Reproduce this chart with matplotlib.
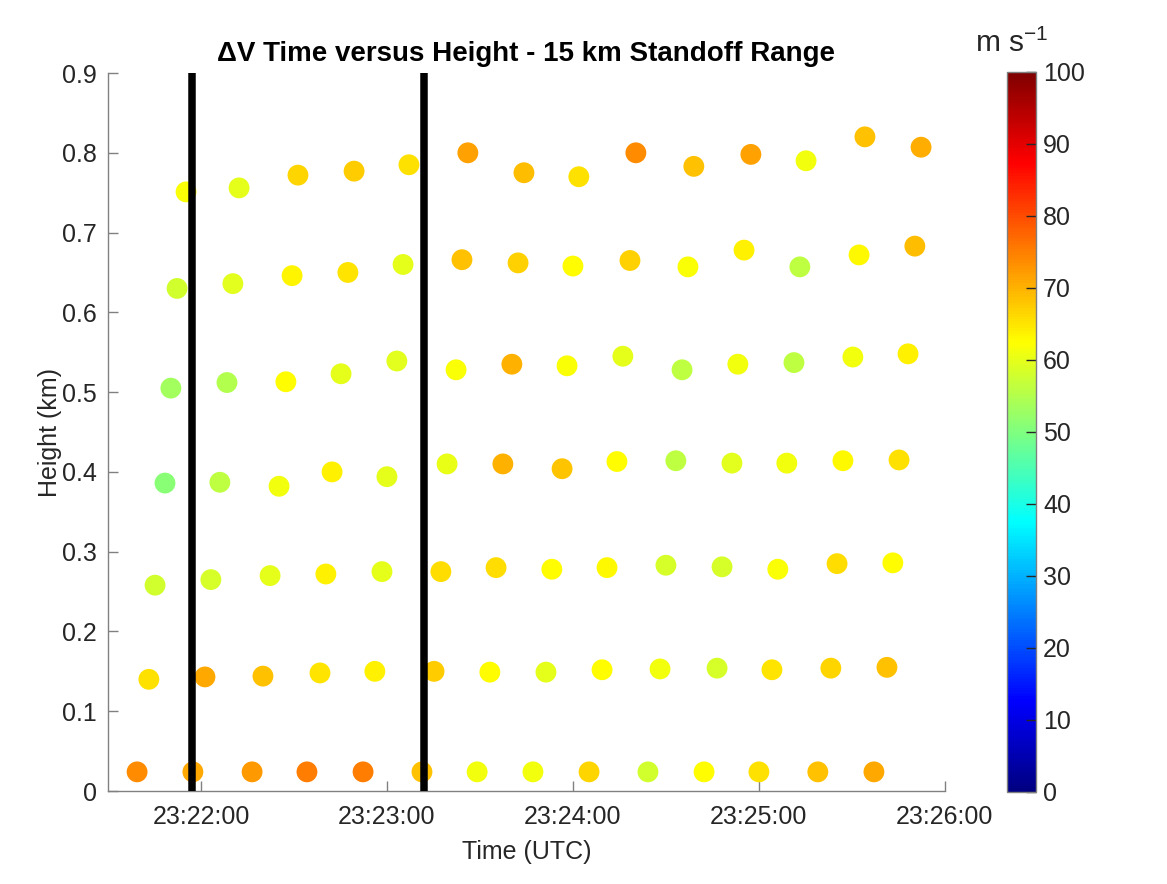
import numpy as np
import matplotlib
matplotlib.use("Agg")
import matplotlib.pyplot as plt
import matplotlib.dates as mdates
from matplotlib.colors import ListedColormap
from datetime import datetime, timedelta

plt.rcParams['font.family'] = ['Liberation Sans', 'DejaVu Sans']

# Scan times in seconds after 23:21:00 UTC, one list per height level
t_lvl1 = [39.4, 57.4, 76.5, 94.2, 112.3, 131.3, 149.1, 167.1, 185.2, 204.2, 222.3, 240.0, 259.0, 277.1]
t_lvl2 = [43.2, 61.3, 80.0, 98.4, 116.1, 135.2, 153.2, 171.3, 189.4, 208.1, 226.5, 244.2, 263.2, 281.3]
t_lvl3 = [45.2, 63.2, 82.3, 100.3, 118.4, 137.4, 155.2, 173.2, 191.0, 210.0, 228.1, 246.1, 265.2, 283.2]
t_lvl4 = [48.4, 66.1, 85.2, 102.3, 120.0, 139.4, 157.4, 176.5, 194.2, 213.2, 231.3, 249.0, 267.1, 285.2]
t_lvl5 = [50.3, 68.4, 87.4, 105.2, 123.2, 142.3, 160.3, 178.1, 196.1, 215.2, 233.2, 251.3, 270.3, 288.1]
t_lvl6 = [52.3, 70.3, 89.4, 107.4, 125.2, 144.2, 162.3, 180.0, 198.4, 217.1, 235.2, 253.2, 272.3, 290.3]
t_lvl7 = [55.2, 72.3, 91.3, 109.4, 127.1, 146.1, 164.2, 181.9, 200.3, 219.0, 237.4, 255.2, 274.2, 292.3]

# Beam heights (km)
h_lvl1 = [0.024] * 14
h_lvl2 = [0.140, 0.143, 0.144, 0.148, 0.150, 0.150, 0.149, 0.149, 0.152, 0.153, 0.154, 0.152, 0.154, 0.155]
h_lvl3 = [0.258, 0.265, 0.270, 0.272, 0.275, 0.275, 0.280, 0.278, 0.280, 0.283, 0.281, 0.278, 0.285, 0.286]
h_lvl4 = [0.386, 0.387, 0.382, 0.400, 0.394, 0.410, 0.410, 0.404, 0.413, 0.414, 0.411, 0.411, 0.414, 0.415]
h_lvl5 = [0.505, 0.512, 0.513, 0.523, 0.539, 0.528, 0.535, 0.533, 0.545, 0.528, 0.535, 0.537, 0.544, 0.548]
h_lvl6 = [0.630, 0.636, 0.646, 0.650, 0.660, 0.666, 0.662, 0.658, 0.665, 0.657, 0.678, 0.657, 0.672, 0.683]
h_lvl7 = [0.751, 0.756, 0.772, 0.777, 0.785, 0.800, 0.775, 0.770, 0.800, 0.783, 0.798, 0.790, 0.820, 0.807]

# Delta-V (m s^-1)
v_lvl1 = [73.5, 71, 72.5, 75, 75, 68.5, 61, 61, 66.5, 58, 62.5, 65.5, 68.5, 71]
v_lvl2 = [65.5, 71, 68.5, 65, 64, 67.5, 62.5, 60, 62.5, 61, 58.5, 65, 66.5, 68.5]
v_lvl3 = [58, 58.5, 60, 64, 60, 66, 66, 62.5, 63, 58.5, 58.5, 62, 66, 62.5]
v_lvl4 = [51, 56, 61, 64, 60, 60.5, 70, 68, 62.5, 56, 59.5, 61, 63, 65.5]
v_lvl5 = [53.5, 55, 62.5, 60, 59.5, 62, 70, 62, 60, 56, 61, 56, 61, 64]
v_lvl6 = [58, 59.5, 63.5, 65, 60, 68.5, 67, 62.5, 67, 62, 64, 56, 63, 69]
v_lvl7 = [62, 60, 66.5, 67.5, 65.5, 71.5, 69, 65.5, 73.5, 68.5, 71.5, 61, 68.5, 70.5]

# Times of the two vertical marker lines (seconds after 23:21:00)
marker_times = [57.1, 132.0]

x_ticks = ["23:22:00", "23:23:00", "23:24:00", "23:25:00", "23:26:00"]
y_ticks = [0, 0.1, 0.2, 0.3, 0.4, 0.5, 0.6, 0.7, 0.8, 0.9]
cbar_ticks = [0, 10, 20, 30, 40, 50, 60, 70, 80, 90, 100]

base = datetime(2000, 1, 1, 23, 21, 0)
def to_dt(sec):
    return base + timedelta(seconds=sec)

# MATLAB-style jet colormap
xx = np.linspace(0, 1, 256)
r = np.clip(np.minimum(4 * xx - 1.5, -4 * xx + 4.5), 0, 1)
g = np.clip(np.minimum(4 * xx - 0.5, -4 * xx + 3.5), 0, 1)
b = np.clip(np.minimum(4 * xx + 0.5, -4 * xx + 2.5), 0, 1)
jet_ml = ListedColormap(np.column_stack([r, g, b]))

times = t_lvl1 + t_lvl2 + t_lvl3 + t_lvl4 + t_lvl5 + t_lvl6 + t_lvl7
heights = h_lvl1 + h_lvl2 + h_lvl3 + h_lvl4 + h_lvl5 + h_lvl6 + h_lvl7
dv = v_lvl1 + v_lvl2 + v_lvl3 + v_lvl4 + v_lvl5 + v_lvl6 + v_lvl7

fig = plt.figure(figsize=(11.67, 8.84), dpi=100)
ax = fig.add_axes([0.0925, 0.1052, 0.7172, 0.8122])
cax = fig.add_axes([0.8629, 0.1041, 0.0249, 0.8145])

axis_gray = '#262626'

xd = mdates.date2num([to_dt(t) for t in times])
sc = ax.scatter(xd, heights, c=dv, cmap=jet_ml, vmin=0, vmax=100,
                s=225, edgecolors='none', zorder=2)

for mt in marker_times:
    ax.axvline(mdates.date2num(to_dt(mt)), color='black', lw=5.4, zorder=3)

ax.set_xlim(mdates.date2num(to_dt(30)), mdates.date2num(to_dt(300)))
ax.set_ylim(0, 0.9)
tick_pos = [mdates.date2num(datetime.strptime("2000-01-01 " + s, "%Y-%m-%d %H:%M:%S")) for s in x_ticks]
ax.set_xticks(tick_pos)
ax.set_xticklabels(x_ticks)
ax.set_yticks(y_ticks)
ax.set_yticklabels(["0" if v == 0 else f"{v:g}" for v in y_ticks])

for side in ['top', 'right']:
    ax.spines[side].set_visible(False)
for side in ['left', 'bottom']:
    ax.spines[side].set_color('#808080')
    ax.spines[side].set_linewidth(1.0)
ax.tick_params(direction='in', length=7, width=1.0, color='#808080',
               labelsize=18, labelcolor=axis_gray)
ax.tick_params(axis='x', pad=10)
ax.tick_params(axis='y', pad=8)

ax.set_xlabel("Time (UTC)", fontsize=18, color=axis_gray, labelpad=8)
ax.set_ylabel("Height (km)", fontsize=18, color=axis_gray, labelpad=0)
ax.set_title("ΔV Time versus Height - 15 km Standoff Range", fontsize=20,
             fontweight='bold', color='black', pad=9)

cb = fig.colorbar(sc, cax=cax)
cb.set_ticks(cbar_ticks)
cb.outline.set_edgecolor('#808080')
cb.outline.set_linewidth(1.0)
cax.tick_params(direction='in', length=7, width=1.0, color=axis_gray,
                labelsize=18, labelcolor=axis_gray, pad=5)

fig.text(0.867, 0.934, r"m s$^{\mathregular{-1}}$", fontsize=21.5, color=axis_gray,
         ha='center', va='bottom')

fig.savefig("out.png", dpi=100)
